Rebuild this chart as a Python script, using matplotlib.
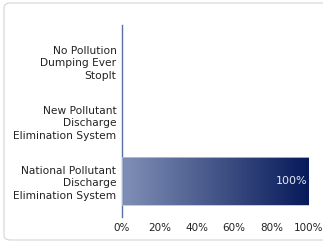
import numpy as np
import matplotlib.pyplot as plt
from matplotlib.patches import FancyBboxPatch
from matplotlib.colors import LinearSegmentedColormap

# dados do gráfico
categorias = ['National Pollutant\nDischarge\nElimination System',
              'New Pollutant\nDischarge\nElimination System',
              'No Pollution\nDumping Ever\nStopIt']
valores = [100, 0, 0]
ticks_x = [0, 20, 40, 60, 80, 100]

fig = plt.figure(figsize=(3.23, 2.44), dpi=100)
fig.patch.set_facecolor('white')

# moldura arredondada em volta
moldura = FancyBboxPatch((4 / 323, 4 / 244), 1.2, 237 / 244,
                         boxstyle='round,pad=0,rounding_size=0.02',
                         transform=fig.transFigure, facecolor='none',
                         edgecolor='#d4d4d4', linewidth=0.8, zorder=-1)
fig.patches.append(moldura)

ax = fig.add_axes([122 / 323, 1 - 217 / 244, 187 / 323, 192 / 244])
ax.set_facecolor('none')

cor_eixo = '#5c6ea8'
cmap = LinearSegmentedColormap.from_list('grad', ['#8190b6', '#071a5a'])
gradiente = np.linspace(0, 1, 256).reshape(1, -1)

y = np.arange(len(categorias))
altura = 0.8
for yi, v in zip(y, valores):
    if v <= 0:
        continue
    ax.imshow(gradiente, cmap=cmap, aspect='auto',
              extent=[0, v, yi - altura / 2, yi + altura / 2], zorder=2)
    ax.add_patch(plt.Rectangle((0, yi - altura / 2), v, altura, fill=False,
                               edgecolor='#b8c2da', linewidth=0.6, zorder=3))
    ax.text(v - 1, yi, f'{v}%', color='#e8ebf3', ha='right', va='center',
            fontsize=8, zorder=4)

ax.set_xlim(0, 100)
ax.set_ylim(-0.6, len(categorias) - 0.4)
ax.set_yticks(y)
ax.set_yticklabels(categorias, fontsize=7.7, color='#222222',
                   linespacing=1.35)
ax.set_xticks(ticks_x)
ax.set_xticklabels([f'{t}%' for t in ticks_x], fontsize=7.5, color='#222222')
ax.tick_params(axis='y', length=0, pad=4)
ax.tick_params(axis='x', length=0, pad=4)

for lado in ['top', 'right', 'bottom']:
    ax.spines[lado].set_visible(False)
ax.spines['left'].set_color(cor_eixo)
ax.spines['left'].set_linewidth(1.0)

fig.savefig('out.png', dpi=100)
